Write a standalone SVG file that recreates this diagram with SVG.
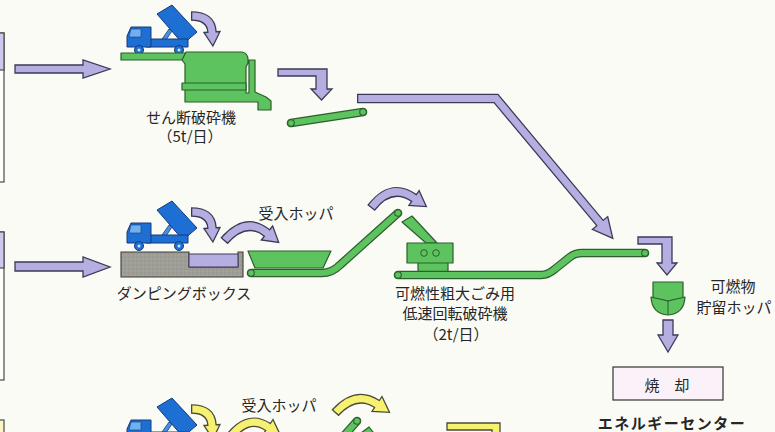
<svg xmlns="http://www.w3.org/2000/svg" xmlns:xlink="http://www.w3.org/1999/xlink" width="775" height="432" viewBox="0 0 775 432">
  <style>
    .lav { fill:#b5aee0; stroke:#3c3a58; stroke-width:1.3; stroke-linejoin:miter; }
    .lav-o { fill:none; stroke:#3c3a58; stroke-width:9.6; stroke-linecap:butt; stroke-linejoin:miter; }
    .lav-i { fill:none; stroke:#b5aee0; stroke-width:7; stroke-linecap:butt; stroke-linejoin:miter; }
    .yel { fill:#f6f170; stroke:#4a4a3a; stroke-width:1.3; stroke-linejoin:miter; }
    .yel-o { fill:none; stroke:#4a4a3a; stroke-width:9.6; stroke-linecap:butt; }
    .yel-i { fill:none; stroke:#f6f170; stroke-width:7; stroke-linecap:butt; }
    .grn { fill:#5cc35e; stroke:#2c5e2e; stroke-width:1.2; stroke-linejoin:round; }
    .belt-o { fill:none; stroke:#2c5e2e; stroke-width:8.6; stroke-linecap:round; stroke-linejoin:round; }
    .belt-i { fill:none; stroke:#5cc35e; stroke-width:6.2; stroke-linecap:round; stroke-linejoin:round; }
    .roll { fill:#5cc35e; stroke:#2c5e2e; stroke-width:1.1; }
    .blu { fill:#1d6fd4; stroke:#173b78; stroke-width:1; stroke-linejoin:round; }
    .box { fill:#fdfdf9; stroke:#4a4a4a; stroke-width:1.2; }
    .txt { font-family:"Noto Sans CJK JP", "Noto Sans", sans-serif; fill:#262626; font-size:15px; text-anchor:middle; }
  </style>
  <defs>
    <pattern id="grit" width="4" height="4" patternUnits="userSpaceOnUse">
      <rect width="4" height="4" fill="#9e9d96"/>
      <circle cx="1" cy="1" r="0.5" fill="#85847d"/>
      <circle cx="3" cy="3" r="0.5" fill="#b3b2aa"/>
    </pattern>
    <!-- dump truck tipping its load, drawn for the top row -->
    <g id="dumptruck">
      <polygon class="blu" points="157,14 172,5 197,32 183,44"/>
      <polygon points="160,42 169,29 172,31 164,43" fill="#4a90e2" stroke="#173b78" stroke-width="0.8"/>
      <rect class="blu" x="146" y="39" width="42" height="8"/>
      <path class="blu" d="M127,47 L127,36 L131,27 L151,27 L151,47 Z"/>
      <polygon points="131,29 141,29 141,37 129,37" fill="#6fb0f0" stroke="#173b78" stroke-width="0.6"/>
      <circle class="blu" cx="139" cy="50" r="4.5"/>
      <circle class="blu" cx="179" cy="50" r="4.5"/>
      <circle cx="139" cy="50" r="1.5" fill="#cfe3fa"/>
      <circle cx="179" cy="50" r="1.5" fill="#cfe3fa"/>
    </g>
  </defs>

  <rect width="775" height="432" fill="#fbfbf5"/>

  <!-- source boxes on the left edge -->
  <g id="source1">
    <rect class="box" x="-6" y="33" width="10" height="149"/>
    <rect x="-6" y="33" width="10" height="37" fill="#cfc8ec" stroke="#4a4a4a" stroke-width="1.2"/>
  </g>
  <g id="source2">
    <rect class="box" x="-6" y="232" width="10" height="148"/>
    <rect x="-6" y="232" width="10" height="36" fill="#cfc8ec" stroke="#4a4a4a" stroke-width="1.2"/>
  </g>
  <g id="source3">
    <rect x="-6" y="420" width="10" height="30" fill="#fbf6c4" stroke="#4a4a4a" stroke-width="1.2"/>
  </g>

  <!-- row 1: shear shredder -->
  <g id="truck1">
    <use xlink:href="#dumptruck"/>
  </g>
  <g id="shredder">
    <rect class="grn" x="121" y="53" width="66" height="7"/>
    <path class="grn" d="M186,52 L242,52 Q248,53 248,60 L248,63 L246,67 L246,93 L249,93 L249,60 L255,60 L255,92 L266,97 L271,101 L271,110 L258,110 L258,102 L185,102 L185,64 L182,60 Z"/>
    <rect class="grn" x="182" y="83" width="64" height="7"/>
    <text class="txt" x="191" y="123">せん断破砕機</text>
    <text class="txt" x="190" y="142" font-size="14">（5t/日）</text>
  </g>
  <g id="conveyor1">
    <path class="belt-o" d="M291,123 L363,112"/>
    <path class="belt-i" d="M291,123 L363,112"/>
    <circle class="roll" cx="291" cy="123" r="3.3"/>
    <circle class="roll" cx="363" cy="112" r="3.3"/>
  </g>

  <!-- row 2: dumping box, receiving hopper, low-speed shredder -->
  <g id="dumpingbox">
    <polygon points="121,252 189,252 189,267 238,267 238,252 243,252 243,277 121,277" fill="url(#grit)" stroke="#3d3d3a" stroke-width="1.1"/>
    <rect x="189" y="254" width="49" height="13" fill="#b5aee0" stroke="#3c3a58" stroke-width="1"/>
    <text class="txt" x="184" y="299" font-size="14.5">ダンピングボックス</text>
  </g>
  <g id="truck2">
    <use xlink:href="#dumptruck" transform="translate(0,196)"/>
  </g>
  <g id="hopper2">
    <polygon class="grn" points="248,251 331,251 323,268 255,268"/>
    <text class="txt" x="296" y="219">受入ホッパ</text>
  </g>
  <g id="conveyor2">
    <path class="belt-o" d="M251,273 L322,273 Q332,273 340,265 L398,213"/>
    <path class="belt-i" d="M251,273 L322,273 Q332,273 340,265 L398,213"/>
    <circle class="roll" cx="251" cy="273" r="3.3"/>
    <circle class="roll" cx="398" cy="213" r="3.3"/>
  </g>
  <g id="crusher">
    <polygon class="grn" points="402,222 412,216 437,243 426,243"/>
    <rect class="grn" x="418" y="262" width="30" height="10"/>
    <rect class="grn" x="407" y="243" width="46" height="20"/>
    <circle cx="424" cy="253" r="3.3" fill="none" stroke="#2c5e2e" stroke-width="1"/>
    <circle cx="436" cy="253" r="3.3" fill="none" stroke="#2c5e2e" stroke-width="1"/>
    <text class="txt" x="455" y="299" font-size="15.5">可燃性粗大ごみ用</text>
    <text class="txt" x="455" y="319" font-size="15.5">低速回転破砕機</text>
    <text class="txt" x="456" y="340" font-size="14">（2t/日）</text>
  </g>
  <g id="conveyor3">
    <path class="belt-o" d="M398,275 L541,275 Q548,275 555,269 L570,257 Q575,253 582,253 L645,253"/>
    <path class="belt-i" d="M398,275 L541,275 Q548,275 555,269 L570,257 Q575,253 582,253 L645,253"/>
    <circle class="roll" cx="398" cy="275" r="3.3"/>
    <circle class="roll" cx="645" cy="253" r="3.3"/>
  </g>

  <!-- storage hopper and incineration -->
  <g id="storagehopper">
    <polygon class="grn" points="653,282 683,282 683,298 668,301 653,298"/>
    <path class="grn" d="M651,297 L668,301 L685,297 Q684,314 668,315 Q652,314 651,297 Z"/>
    <line x1="668" y1="301" x2="668" y2="315" stroke="#2c5e2e" stroke-width="1"/>
    <text class="txt" x="733" y="292" font-size="15">可燃物</text>
    <text class="txt" x="734" y="313" font-size="15">貯留ホッパ</text>
  </g>
  <g id="incineration">
    <rect x="613" y="367" width="110" height="33" fill="#faf2f8" stroke="#333" stroke-width="1.2"/>
    <text class="txt" x="667" y="391" font-size="17">焼　却</text>
    <text class="txt" x="672" y="429" font-size="19" font-weight="bold" fill="#111" letter-spacing="1.5">エネルギーセンター</text>
  </g>

  <!-- row 3 (continues below the frame) -->
  <g id="truck3">
    <use xlink:href="#dumptruck" transform="translate(0,393)"/>
  </g>
  <g id="hopper3">
    <text class="txt" x="279" y="411">受入ホッパ</text>
  </g>
  <g id="conveyor4">
    <path class="belt-o" d="M357,421 L335,446"/>
    <path class="belt-i" d="M357,421 L335,446"/>
    <circle class="roll" cx="357" cy="421" r="3.3"/>
    <polygon class="grn" points="361,433 369,427 381,442 370,442"/>
  </g>

  <!-- flow arrows -->
  <g id="connectors">
    <polygon class="lav" points="15,65 83,65 83,60 110,69 83,78 83,73 15,73"/>
    <polygon class="lav" points="15,262 83,262 83,257 110,267 83,277 83,271 15,271"/>
    <polygon class="lav" points="278,69 327,69 327,89 332,89 321.5,100 311,89 316,89 316,76 278,76"/>

    <!-- long bent arrow to the storage hopper -->
    <path class="lav-o" d="M357,98.5 L496,98.5 L600,223"/>
    <polygon class="lav" points="592.3,229.4 607.7,216.6 612.8,238.4"/>
    <path class="lav-i" d="M358.3,98.5 L496,98.5 L601.3,224.6"/>

    <polygon class="lav" points="638,237 672,237 672,263 677,263 667,275 657,263 662,263 662,244 638,244"/>
    <polygon class="lav" points="663,320 673,320 673,335 678,335 668,352 658,335 663,335"/>

    <!-- curved drop arrows, row 1 and row 2 -->
    <path class="lav-o" d="M191,16 Q211,16 212,32" stroke-width="7.6"/>
    <polygon class="lav" points="204,32.5 220,31.5 212.9,46"/>
    <path class="lav-i" d="M192.3,16 Q211,16 212,32 L212.1,33.8" stroke-width="5"/>

    <path class="lav-o" d="M191,212 Q211,212 212,228" stroke-width="7.6"/>
    <polygon class="lav" points="204,228.5 220,227.5 212.9,242"/>
    <path class="lav-i" d="M192.3,212 Q211,212 212,228 L212.1,229.8" stroke-width="5"/>

    <path class="lav-o" d="M224,241 Q246,216 267,233"/>
    <polygon class="lav" points="272.7,226 261.3,240 278.7,242.4"/>
    <path class="lav-i" d="M224.9,240 Q246,216 267,233 L268.6,234.3"/>

    <path class="lav-o" d="M371,208 Q391,182 414,198"/>
    <polygon class="lav" points="419.1,190.6 408.9,205.4 426.3,206.6"/>
    <path class="lav-i" d="M371.8,207 Q391,182 414,198 L415.6,199.1"/>

    <!-- row 3 yellow arrows -->
    <path class="yel-o" d="M191,409 Q211,409 212,425" stroke-width="7.6"/>
    <polygon class="yel" points="204,425.5 220,424.5 212.9,439"/>
    <path class="yel-i" d="M192.3,409 Q211,409 212,425 L212.1,426.8" stroke-width="5"/>

    <path class="yel-o" d="M225,444 Q246,412 268,427"/>
    <polygon class="yel" points="273,419.5 263,434.5 280.5,435.3"/>
    <path class="yel-i" d="M225.8,443 Q246,412 268,427 L269.7,428.1"/>

    <path class="yel-o" d="M335,413 Q356,390 377,404"/>
    <polygon class="yel" points="382,396.5 372,411.5 389.5,412.3"/>
    <path class="yel-i" d="M335.9,412 Q356,390 377,404 L378.7,405.1"/>

    <polygon class="yel" points="447,423 500,423 500,440 492,440 492,430 447,430"/>
  </g>
</svg>
